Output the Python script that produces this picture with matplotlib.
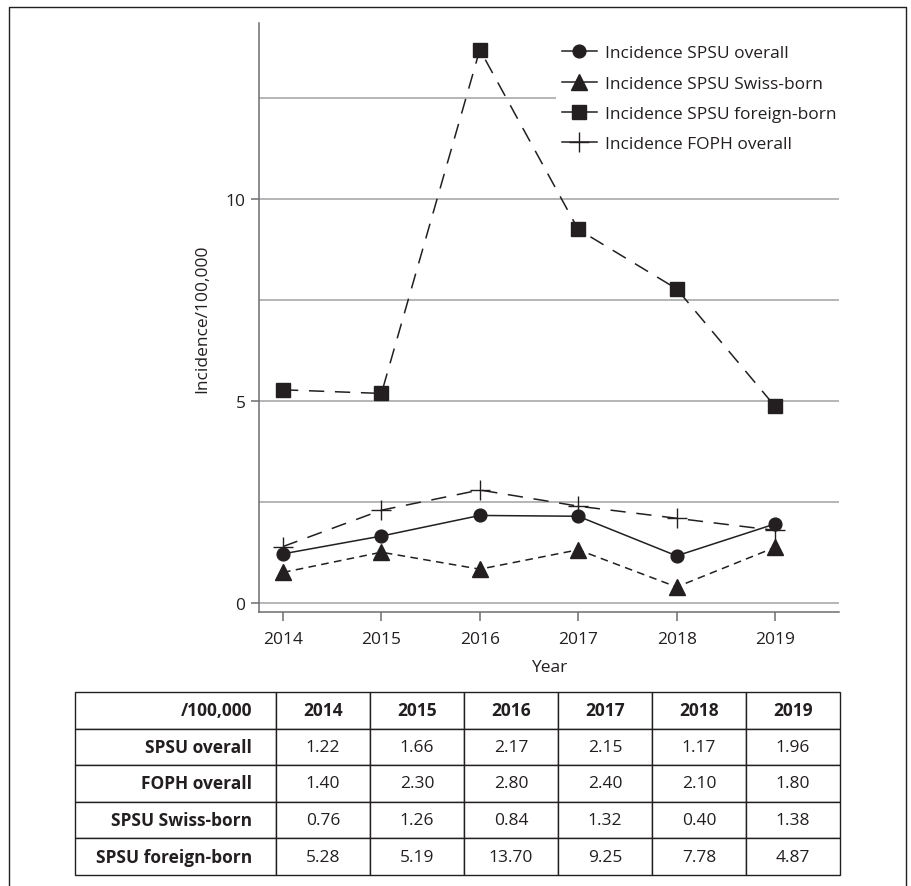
import matplotlib
matplotlib.use("Agg")
import matplotlib.pyplot as plt
from matplotlib.lines import Line2D
from matplotlib.table import Table

plt.rcParams['font.family'] = ['Open Sans', 'DejaVu Sans']

years = [2014, 2015, 2016, 2017, 2018, 2019]
spsu_overall = [1.22, 1.66, 2.17, 2.15, 1.17, 1.96]
foph_overall = [1.40, 2.30, 2.80, 2.40, 2.10, 1.80]
spsu_swiss = [0.76, 1.26, 0.84, 1.32, 0.40, 1.38]
spsu_foreign = [5.28, 5.19, 13.70, 9.25, 7.78, 4.87]

row_labels = ['SPSU overall', 'FOPH overall', 'SPSU Swiss-born', 'SPSU foreign-born']
legend_labels = ['Incidence SPSU overall', 'Incidence SPSU Swiss-born',
                 'Incidence SPSU foreign-born', 'Incidence FOPH overall']

ink = '#231f20'
axis_grey = '#6d6e71'
grid_grey = '#a7a9ac'

W, H = 911, 887
fig = plt.figure(figsize=(W / 100, H / 100), dpi=100)

# main plot
ax = fig.add_axes([259 / W, 1 - 613 / H, 580 / W, 589 / H])
ax.plot(years, spsu_overall, color=ink, lw=1.1, ls='-', marker='o', ms=9.2, zorder=3)
ax.plot(years, spsu_swiss, color=ink, lw=1.1, ls=(0, (5, 3.5)), marker='^', ms=11.5, zorder=3)
ax.plot(years, spsu_foreign, color=ink, lw=1.1, ls=(0, (10, 7)), marker='s', ms=9.6, zorder=3)
ax.plot(years, foph_overall, color=ink, lw=1.1, ls=(0, (10, 7)), marker='+', ms=14.5,
        mew=1.0, zorder=3)

ax.set_xlim(2013.756, 2019.65)
ax.set_ylim(-0.22, 14.36)
ax.set_xticks(years)
ax.set_yticks([0, 5, 10])
ax.set_yticks([2.5, 7.5, 12.5], minor=True)
ax.grid(axis='y', which='both', color=grid_grey, lw=1.2)
ax.set_axisbelow(True)

for s in ['top', 'right']:
    ax.spines[s].set_visible(False)
for s in ['left', 'bottom']:
    ax.spines[s].set_color(axis_grey)
    ax.spines[s].set_linewidth(1.1)

ax.tick_params(axis='x', which='major', length=6.5, width=1.1, color=axis_grey,
               labelsize=12.5, labelcolor=ink, pad=7)
ax.tick_params(axis='y', which='major', length=5.8, width=1.1, color=axis_grey,
               labelsize=12.5, labelcolor=ink, pad=4)
ax.tick_params(axis='y', which='minor', length=0)

ax.set_xlabel('Year', fontsize=12.5, color=ink, labelpad=9)
ax.set_ylabel('Incidence/100,000', fontsize=12.5, color=ink, labelpad=11)

handles = [
    Line2D([], [], color=ink, lw=1.1, marker='o', ms=9.2),
    Line2D([], [], color=ink, lw=1.1, marker='^', ms=11.5),
    Line2D([], [], color=ink, lw=1.1, marker='s', ms=9.6),
    Line2D([], [], color=ink, lw=1.1, marker='+', ms=14.5, mew=1.0),
]
leg = ax.legend(handles, legend_labels, loc='upper left',
                bbox_to_anchor=(556 / W, 1 - 40 / H), bbox_transform=fig.transFigure,
                fontsize=12.5, frameon=True, facecolor='white', edgecolor='none',
                framealpha=1, fancybox=False, borderpad=0.35, borderaxespad=0,
                handlelength=2.0, handletextpad=0.45, labelspacing=0.82)
for t in leg.get_texts():
    t.set_color(ink)

# table below
tax = fig.add_axes([75 / W, 1 - 876 / H, 765 / W, 183 / H])
tax.set_axis_off()
tbl = Table(tax, bbox=[0, 0, 1, 1])
first_w = 201 / 765
col_w = (1 - first_w) / len(years)
n_rows = len(row_labels) + 1
row_h = 1 / n_rows

table_rows = [spsu_overall, foph_overall, spsu_swiss, spsu_foreign]
header = ['/100,000'] + [str(y) for y in years]
for c, txt in enumerate(header):
    cell = tbl.add_cell(0, c, width=first_w if c == 0 else col_w, height=row_h,
                        text=txt, loc='right' if c == 0 else 'center',
                        facecolor='white', edgecolor=ink)
    cell.get_text().set_fontweight('bold')
for r, (lab, vals) in enumerate(zip(row_labels, table_rows), start=1):
    cell = tbl.add_cell(r, 0, width=first_w, height=row_h, text=lab, loc='right',
                        facecolor='white', edgecolor=ink)
    cell.get_text().set_fontweight('bold')
    for c, v in enumerate(vals, start=1):
        tbl.add_cell(r, c, width=col_w, height=row_h, text=f'{v:.2f}', loc='center',
                     facecolor='white', edgecolor=ink)
for (r, c), cell in tbl.get_celld().items():
    cell.set_linewidth(1.0)
    cell.PAD = 0.12 if c == 0 else 0.1
    cell.get_text().set_color(ink)
tbl.auto_set_font_size(False)
tbl.set_fontsize(12.5)
tax.add_table(tbl)

# frame around the figure (bottom edge falls outside the image)
fig.add_artist(Line2D([9 / W, 9 / W, 906 / W, 906 / W], [-0.02, 1 - 8 / H, 1 - 8 / H, -0.02],
                      transform=fig.transFigure, color=ink, lw=1.0))

fig.savefig('out.png', dpi=100)
